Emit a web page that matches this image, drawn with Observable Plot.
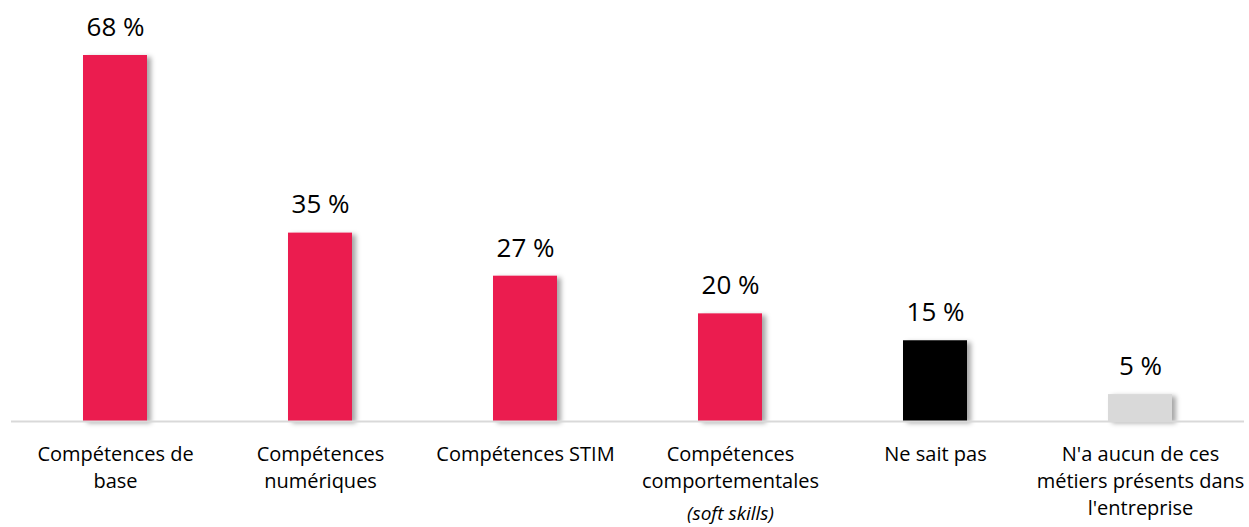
<!DOCTYPE html>
<html>
<head>
<meta charset="utf-8">
<script src="https://cdn.jsdelivr.net/npm/d3@7"></script>
<script src="https://cdn.jsdelivr.net/npm/@observablehq/plot@0.6"></script>
<style>
  body { margin: 0; background: #fff; }
  #chart svg { display: block; }
</style>
</head>
<body>
<div id="chart"></div>
<script>
const categories = [
  "Compétences de\nbase",
  "Compétences\nnumériques",
  "Compétences STIM",
  "Compétences\ncomportementales",
  "Ne sait pas",
  "N'a aucun de ces\nmétiers présents dans\nl'entreprise"
];
const values = [68, 35, 27, 20, 15, 5];
const colors = ["#EB1A50", "#EB1A50", "#EB1A50", "#EB1A50", "#000000", "#D9D9D9"];
const valueLabels = ["68 %", "35 %", "27 %", "20 %", "15 %", "5 %"];
const italicNote = "(soft skills)";

const data = categories.map((c, i) => ({cat: c, value: values[i], color: colors[i], label: valueLabels[i]}));

const chart = Plot.plot({
  width: 1249,
  height: 527,
  marginLeft: 11,
  marginRight: 5,
  marginTop: 55,
  marginBottom: 106,
  style: {fontFamily: "'Open Sans', sans-serif", color: "#000", background: "#fff"},
  x: {domain: categories, paddingInner: 0.69, paddingOuter: 0.345, axis: null},
  y: {domain: [0, 68], axis: null},
  marks: [
    Plot.barY(data, {x: "cat", y: "value", fill: "color"}),
    Plot.ruleY([0], {stroke: "#d9d9d9", strokeWidth: 2}),
    Plot.text(data, {x: "cat", y: "value", text: "label", dy: -28, fontSize: 26, fill: "#000"}),
    Plot.text(data, {x: "cat", y: () => 0, text: "cat", lineAnchor: "top", dy: 20, fontSize: 20, lineHeight: 1.35, fill: "#000"}),
    Plot.text([categories[3]], {x: d => d, y: () => 0, text: () => italicNote, lineAnchor: "top", dy: 85, fontSize: 19, fontStyle: "italic", fill: "#000"})
  ]
});

// drop shadow on bars
const svg = d3.select(chart);
const defs = svg.insert("defs", ":first-child");
const f = defs.append("filter").attr("id", "barShadow").attr("x", "-20%").attr("y", "-10%").attr("width", "150%").attr("height", "120%");
f.append("feDropShadow").attr("dx", 4).attr("dy", 2).attr("stdDeviation", 2.5).attr("flood-color", "#000").attr("flood-opacity", 0.35);
svg.select('g[aria-label="bar"]').attr("filter", "url(#barShadow)");

document.getElementById("chart").append(chart);
</script>
</body>
</html>
